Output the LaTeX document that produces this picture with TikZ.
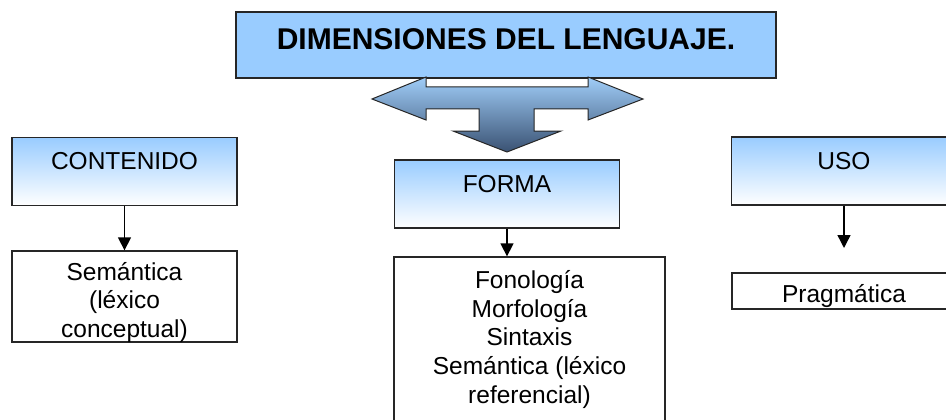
\documentclass[tikz,border=0pt]{standalone}
\usepackage{fontspec}
\setmainfont{Liberation Sans}
\usepackage{tikz}
\usetikzlibrary{arrows.meta}

\definecolor{azulclaro}{RGB}{153,204,255}
\definecolor{azulflecha}{RGB}{160,205,248}
\definecolor{azuloscuro}{RGB}{58,82,115}

\begin{document}
\begin{tikzpicture}[x=1pt,y=-1pt,
   >={Triangle[length=13pt,width=13pt]},
   titulo/.style={draw=black!85,line width=1.3pt,fill=azulclaro,inner sep=0pt,
     minimum width=540pt,text height=38pt,text depth=28pt,
     font=\fontsize{30}{36}\selectfont\bfseries},
   dimension/.style={draw=black!85,line width=1.3pt,top color=azulclaro,
     middle color=azulclaro!65,bottom color=white,
     inner sep=0pt,minimum width=225pt,text height=32pt,text depth=36pt,
     font=\fontsize{24.5}{28.7}\selectfont},
   componente/.style={draw=black!85,line width=1.3pt,fill=white,align=center,
     inner sep=0pt,font=\fontsize{24.5}{28.7}\selectfont},
   conector/.style={->,line width=1.4pt},
   flecha triple/.style={draw=black!85,line width=1pt,top color=azulflecha,
     bottom color=azuloscuro}]

  \useasboundingbox (0,0) rectangle (946,420);

  \node[titulo] (dim) at (506,45) {DIMENSIONES DEL LENGUAJE.};

  \node[dimension] (cont) at (124.5,171.5) {CONTENIDO};
  \node[dimension] (forma) at (507,194) {FORMA};
  \node[dimension] (uso) at (844,171) {USO};

  \node[componente,minimum width=225pt,text height=86.5pt,text depth=4.5pt] (sem)
     [below of=cont,node distance=125pt] {Semántica\\(léxico\\conceptual)};
  \node[componente,minimum width=271pt,minimum height=165pt] (comp) at (529.5,339.5)
     {Fonología\\Morfología\\Sintaxis\\Semántica (léxico\\referencial)};
  \node[componente,minimum width=224pt,text height=29pt,text depth=7pt] (prag)
     [below of=uso,node distance=120pt] {Pragmática};

  % flecha de tres puntas bajo el titulo
  \draw[flecha triple] (372,99) -- (426,77) -- (426,87) -- (588,87) -- (588,77)
     -- (643,99) -- (588,120) -- (588,109) -- (534,109) -- (534,131) -- (561,131)
     -- (507,152) -- (453,131) -- (479,131) -- (479,109) -- (426,109) -- (426,120)
     -- cycle;

  \coordinate (usofin) at (844,248);
  \foreach \desde/\hasta in {cont/sem,uso/usofin}
    \draw[conector] (\desde) -- (\hasta);
  \draw[conector] (forma) -- (forma |- comp.north);
\end{tikzpicture}
\end{document}
